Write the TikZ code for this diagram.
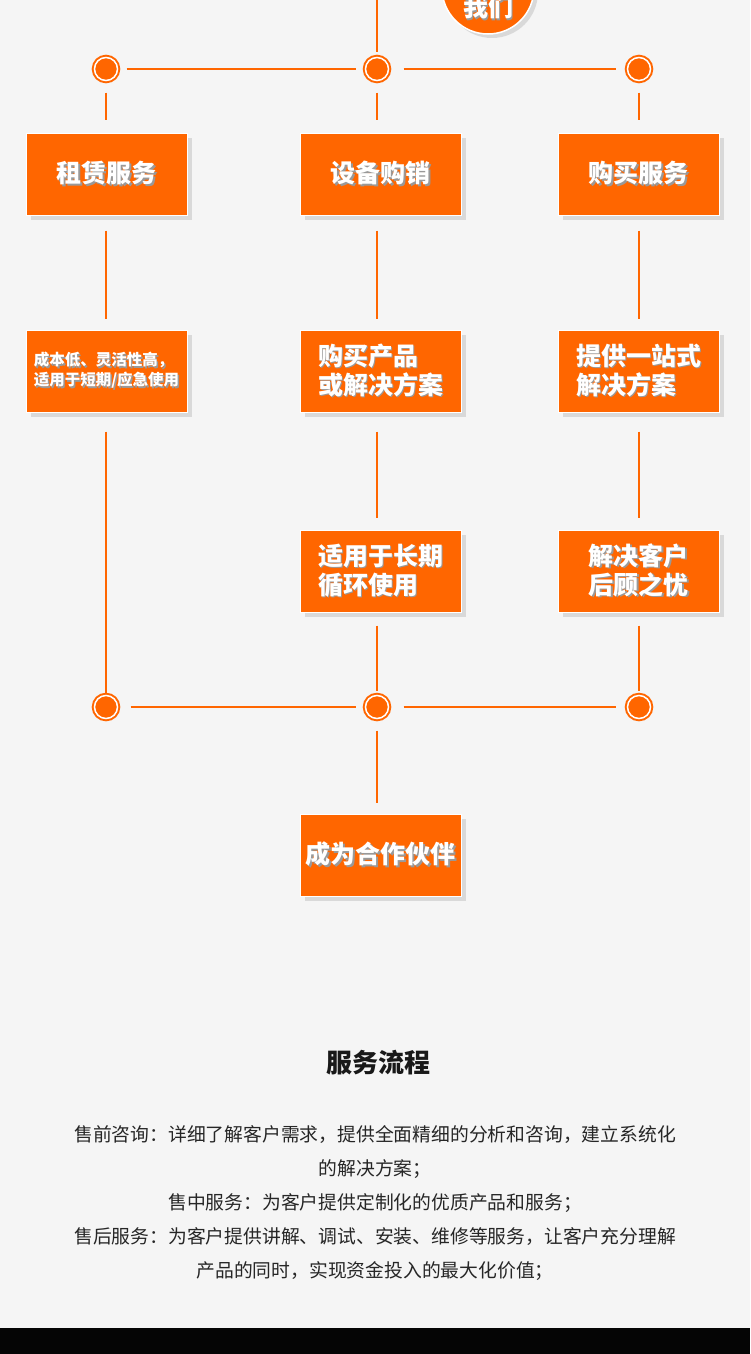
\documentclass[tikz,border=0pt]{standalone}
\usepackage{fontspec}
\setmainfont{Noto Sans CJK SC}
\usepackage{xcolor}
\usepackage{tikz}
\usetikzlibrary{positioning,shadows,calc}
\definecolor{cgorange}{HTML}{FF6600}
\definecolor{pagebg}{HTML}{F5F5F5}
\newcommand{\shd}[1]{\makebox[0pt][l]{\hspace{1.5pt}\raisebox{-1.5pt}{\textcolor{black!40}{#1}}}#1}

\begin{document}
\begin{tikzpicture}[x=1pt,y=-1pt,font=\bfseries\fontsize{25}{29}\selectfont]
        \tikzstyle{b}=[fill=cgorange,draw=white,line width=1pt,minimum width=161pt,minimum height=82pt,inner sep=0pt,text=white,align=left,drop shadow={shadow xshift=4.5pt,shadow yshift=-4.5pt,fill=black!15,opacity=1}]
        \tikzstyle{dt}=[circle,minimum size=23pt,inner sep=0pt,fill=cgorange,draw=cgorange,line width=2pt,double=white,double distance=1.5pt]
        \tikzstyle{ln}=[draw=cgorange,line width=2.8pt]
        \useasboundingbox (0,0) rectangle (750,1354);
        \clip (0,0) rectangle (750,1354);
        \fill[pagebg] (0,0) rectangle (750,1354);
        % top badge
        \node[circle,fill=cgorange,draw=white,line width=1.5pt,minimum size=92pt,drop shadow={shadow xshift=4pt,shadow yshift=-4pt,fill=black!15,opacity=1},
          label={[text=white,yshift=-20pt]center:\shd{我们}}] (us) at (488,-12) {};
        \coordinate (top) at (377,0);
        % dots
        \node[dt] (t1) at (106,69) {};
        \node[dt] (t2) at (377,69) {};
        \node[dt] (t3) at (639,69) {};
        \node[dt] (u1) at (106,707) {};
        \node[dt] (u2) at (377,707) {};
        \node[dt] (u3) at (639,707) {};
        % boxes
        \node[b,align=center] (a1) at (106.5,174) {\shd{租赁服务}};
        \node[b,align=center] (a2) at (380.5,174) {\shd{设备购销}};
        \node[b,align=center] (a3) at (638.5,174) {\shd{购买服务}};
        \node[b,below=114pt of a1,font=\bfseries\fontsize{15.5}{20}\selectfont] (c1) {\shd{成本低、灵活性高，}\\\shd{适用于短期/应急使用}};
        \node[b,below=114pt of a2] (c2) {\shd{购买产品}\\\shd{或解决方案}};
        \node[b,below=114pt of a3] (c3) {\shd{提供一站式}\\\shd{解决方案}};
        \node[b,below=117pt of c2] (e2) {\shd{适用于长期}\\\shd{循环使用}};
        \node[b,below=117pt of c3] (e3) {\shd{解决客户}\\\shd{后顾之忧}};
        \node[b,align=center] (fin) at (380.5,855) {\shd{成为合作伙伴}};
        % connectors
        \draw[ln,shorten >=4pt] (top) -- (t2);
        \draw[ln,shorten <=8pt,shorten >=9pt] (t1) -- (t2);
        \draw[ln,shorten <=14pt,shorten >=11pt] (t2) -- (t3);
        \draw[ln,shorten <=11pt,shorten >=13pt] (t1) -- (t1 |- a1.north);
        \draw[ln,shorten <=11pt,shorten >=13pt] (t2) -- (t2 |- a2.north);
        \draw[ln,shorten <=11pt,shorten >=13pt] (t3) -- (t3 |- a3.north);
        \draw[ln,shorten <=15pt,shorten >=11pt] (a1.south -| t1) -- (c1.north -| t1);
        \draw[ln,shorten <=15pt,shorten >=11pt] (a2.south -| t2) -- (c2.north -| t2);
        \draw[ln,shorten <=15pt,shorten >=11pt] (a3.south -| t3) -- (c3.north -| t3);
        \draw[ln,shorten <=19pt,shorten >=2pt] (c1.south -| u1) -- (u1);
        \draw[ln,shorten <=19pt,shorten >=12pt] (c2.south -| t2) -- (e2.north -| t2);
        \draw[ln,shorten <=19pt,shorten >=12pt] (c3.south -| t3) -- (e3.north -| t3);
        \draw[ln,shorten <=13pt,shorten >=4pt] (e2.south -| u2) -- (u2);
        \draw[ln,shorten <=13pt,shorten >=4pt] (e3.south -| u3) -- (u3);
        \draw[ln,shorten <=12pt,shorten >=9pt] (u1) -- (u2);
        \draw[ln,shorten <=14pt,shorten >=11pt] (u2) -- (u3);
        \draw[ln,shorten <=11pt,shorten >=11pt] (u2) -- (u2 |- fin.north);
        % service text
        \node[font=\bfseries\fontsize{26}{30}\selectfont,text=black!90] (ttl) at (378,1063) {服务流程};
        \node[font=\fontsize{18.8}{34}\selectfont,text=black!85,align=center] (txt) at (375,1203)
          {售前咨询：详细了解客户需求，提供全面精细的分析和咨询，建立系统化\\的解决方案；\\售中服务：为客户提供定制化的优质产品和服务；\\售后服务：为客户提供讲解、调试、安装、维修等服务，让客户充分理解\\产品的同时，实现资金投入的最大化价值；};
        \fill[black!98] (0,1328) rectangle (750,1354);
      \end{tikzpicture}
\end{document}
